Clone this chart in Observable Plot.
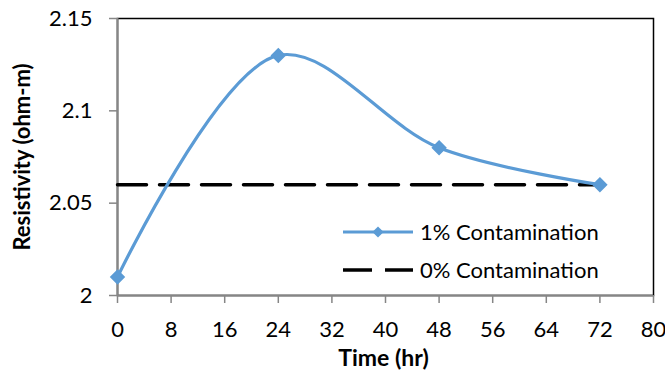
<!DOCTYPE html>
<html>
<head>
<meta charset="utf-8">
<script src="https://cdn.jsdelivr.net/npm/d3@7"></script>
<script src="https://cdn.jsdelivr.net/npm/@observablehq/plot@0.6"></script>
<style>
  html, body { margin: 0; padding: 0; background: #fff; }
  #wrap { position: relative; width: 665px; height: 375px; font-family: Lato, "Open Sans", sans-serif; }
  #legend { position: absolute; left: 0; top: 0; }
</style>
</head>
<body>
<div id="wrap"></div>
<script>
// Data
const times = [0, 24, 48, 72];
const contam1 = [2.01, 2.13, 2.08, 2.06];
const contam0 = [2.06, 2.06, 2.06, 2.06];
const xTicks = [0, 8, 16, 24, 32, 40, 48, 56, 64, 72, 80];
const yTicks = [2, 2.05, 2.1, 2.15];
const seriesNames = ["1% Contamination", "0% Contamination"];

const s1 = times.map((t, i) => ({t, v: contam1[i]}));
const s0 = times.map((t, i) => ({t, v: contam0[i]}));

const blue = "#5B9BD5";
const gray = "#868686";
const W = 665, H = 375;
const mL = 117, mR = 12, mT = 18, mB = 80;

const chart = Plot.plot({
  width: W, height: H,
  marginLeft: mL, marginRight: mR, marginTop: mT, marginBottom: mB,
  style: {fontFamily: "Lato, 'Open Sans', sans-serif", fontSize: "22px", color: "#000", background: "#fff", overflow: "visible"},
  x: {domain: [0, 80], ticks: xTicks},
  y: {domain: [2, 2.15], ticks: yTicks},
  marks: [
    Plot.frame({stroke: "#000", strokeWidth: 1.5}),
    Plot.ruleY([2], {stroke: gray, strokeWidth: 2}),
    Plot.ruleX([0], {stroke: gray, strokeWidth: 2}),
    Plot.axisX({ticks: xTicks, tickSize: 8, tickPadding: 18, stroke: gray, strokeWidth: 1.5, tickFormat: d => String(d), fontSize: 22, label: null}),
    Plot.axisY({ticks: yTicks, tickSize: 8, tickPadding: 17, stroke: gray, strokeWidth: 1.5, tickFormat: d => String(+d.toFixed(2)), fontSize: 22, label: null}),
    Plot.lineY(s0, {x: "t", y: "v", stroke: "#000", strokeWidth: 3.5, strokeDasharray: "29,13"}),
    Plot.lineY(s1, {x: "t", y: "v", stroke: blue, strokeWidth: 3.2, curve: "catmull-rom"}),
    Plot.dot(s1, {x: "t", y: "v", symbol: "diamond2", r: 6, fill: blue, stroke: blue}),
    Plot.text(["Time (hr)"], {frameAnchor: "bottom", dx: -2, dy: 70, fontWeight: "bold", fontSize: 23, text: d => d}),
    Plot.text(["Resistivity (ohm-m)"], {frameAnchor: "left", dx: -95, rotate: -90, textAnchor: "middle", lineAnchor: "middle", fontWeight: "bold", fontSize: 22, text: d => d})
  ]
});
document.getElementById("wrap").appendChild(chart);

// Legend overlay
const lg = d3.select("#wrap").append("svg")
  .attr("id", "legend").attr("width", W).attr("height", H)
  .style("font-family", "Lato, 'Open Sans', sans-serif").style("font-size", "22px");
const lx = 343, ly = [232, 270];
lg.append("line").attr("x1", lx).attr("x2", lx + 70).attr("y1", ly[0]).attr("y2", ly[0])
  .attr("stroke", blue).attr("stroke-width", 3.2);
lg.append("path").attr("d", d3.symbol(d3.symbolDiamond2, 80)()).attr("transform", `translate(${lx + 35},${ly[0]})`).attr("fill", blue);
lg.append("line").attr("x1", lx).attr("x2", lx + 70).attr("y1", ly[1]).attr("y2", ly[1])
  .attr("stroke", "#000").attr("stroke-width", 3.5).attr("stroke-dasharray", "29,13");
seriesNames.forEach((n, i) => {
  lg.append("text").attr("x", lx + 77).attr("y", ly[i]).attr("dy", "0.35em").text(n);
});
</script>
</body>
</html>
